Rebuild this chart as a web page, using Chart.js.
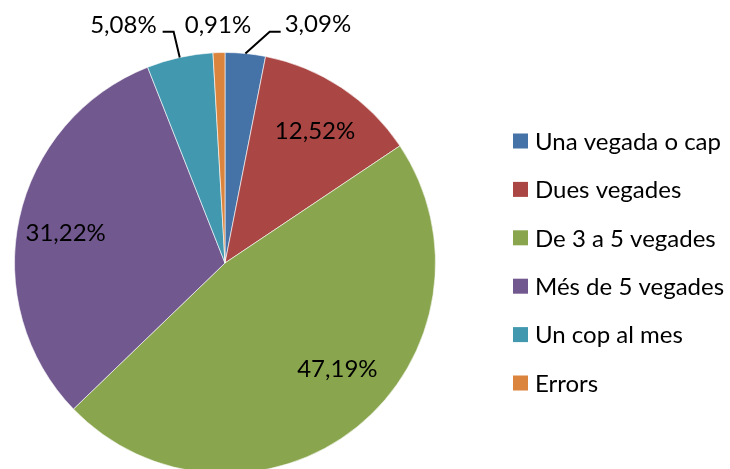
<!DOCTYPE html>
<html>
<head>
<meta charset="utf-8">
<script src="https://cdn.jsdelivr.net/npm/chart.js@4.4.0/dist/chart.umd.min.js"></script>
<style>
  html, body { margin: 0; padding: 0; background: #fff; }
  #wrap { width: 730px; height: 469px; overflow: hidden; position: relative; }
</style>
</head>
<body>
<div id="wrap"><canvas id="chart" width="730" height="480"></canvas></div>
<script>
var categories = ['Una vegada o cap', 'Dues vegades', 'De 3 a 5 vegades', 'Més de 5 vegades', 'Un cop al mes', 'Errors'];
var percentages = [3.09, 12.52, 47.19, 31.22, 5.08, 0.91];
var sliceColors = ['#4572A7', '#AA4643', '#89A54E', '#71588F', '#4198AF', '#DB843D'];

var FONT = 'Lato, "Open Sans", sans-serif';

// where each value label sits: inside the slice (fraction of radius, angle nudge)
// or outside on a given angle with a leader line
var labelPlacement = [
  {outside: true, deg: 21.3, r: 1.215, side: 'right'},
  {r: 0.76, dDeg: 0.6},
  {r: 0.735, dDeg: -7.7},
  {r: 0.77, dDeg: -1.7},
  {outside: true, deg: 336.9, r: 1.23, side: 'left'},
  {outside: true, deg: 358.3, r: 1.13, noLine: true}
];

function fmt(v) {
  return v.toFixed(2).replace('.', ',') + '%';
}

var valueLabels = {
  id: 'valueLabels',
  afterDatasetsDraw: function(chart) {
    var ctx = chart.ctx;
    var arcs = chart.getDatasetMeta(0).data;
    ctx.save();
    ctx.font = '24px ' + FONT;
    ctx.fillStyle = '#000';
    ctx.textAlign = 'center';
    ctx.textBaseline = 'middle';
    arcs.forEach(function(arc, i) {
      var p = labelPlacement[i];
      var R = arc.outerRadius;
      var mid = (arc.startAngle + arc.endAngle) / 2;
      var txt = fmt(percentages[i]);
      if (!p.outside) {
        var a = mid + p.dDeg * Math.PI / 180;
        ctx.fillText(txt, arc.x + Math.cos(a) * R * p.r, arc.y + Math.sin(a) * R * p.r);
        return;
      }
      var b = (p.deg - 90) * Math.PI / 180;
      var lx = arc.x + Math.cos(b) * R * p.r;
      var ly = arc.y + Math.sin(b) * R * p.r;
      ctx.fillText(txt, lx, ly);
      if (p.noLine) return;
      var w = ctx.measureText(txt).width;
      var sx = arc.x + Math.cos(mid) * R;
      var sy = arc.y + Math.sin(mid) * R;
      var ex, kx;
      if (p.side === 'right') {
        ex = lx - w / 2 - 4;
        kx = ex - 11;
      } else {
        ex = lx + w / 2 + 6;
        kx = ex + 11;
      }
      var ey = ly + 7;
      ctx.beginPath();
      ctx.strokeStyle = '#000';
      ctx.lineWidth = 2;
      ctx.moveTo(sx, sy);
      ctx.lineTo(kx, ey);
      ctx.lineTo(ex, ey);
      ctx.stroke();
    });
    ctx.restore();
  }
};

var sideLegend = {
  id: 'sideLegend',
  afterDraw: function(chart) {
    var ctx = chart.ctx;
    var o = chart.options.plugins.sideLegend;
    ctx.save();
    ctx.font = '24px ' + FONT;
    ctx.fillStyle = '#000';
    ctx.textBaseline = 'middle';
    categories.forEach(function(name, i) {
      var cy = o.top + i * o.step;
      ctx.fillStyle = sliceColors[i];
      ctx.fillRect(o.x, cy - o.box / 2, o.box, o.box);
      ctx.fillStyle = '#000';
      ctx.fillText(name, o.x + o.textGap, cy + 1);
    });
    ctx.restore();
  }
};

var chart = new Chart(document.getElementById('chart'), {
  type: 'pie',
  data: {
    labels: categories,
    datasets: [{
      data: percentages,
      backgroundColor: sliceColors,
      borderColor: 'rgba(255,255,255,0.6)',
      borderWidth: 1,
      hoverOffset: 0
    }]
  },
  options: {
    responsive: false,
    animation: false,
    devicePixelRatio: 1,
    layout: { padding: { left: 14, right: 294, top: 52, bottom: 6 } },
    plugins: {
      legend: { display: false },
      tooltip: { enabled: false },
      sideLegend: { x: 513, top: 141, step: 48.4, box: 15, textGap: 22 }
    }
  },
  plugins: [valueLabels, sideLegend]
});
</script>
</body>
</html>
